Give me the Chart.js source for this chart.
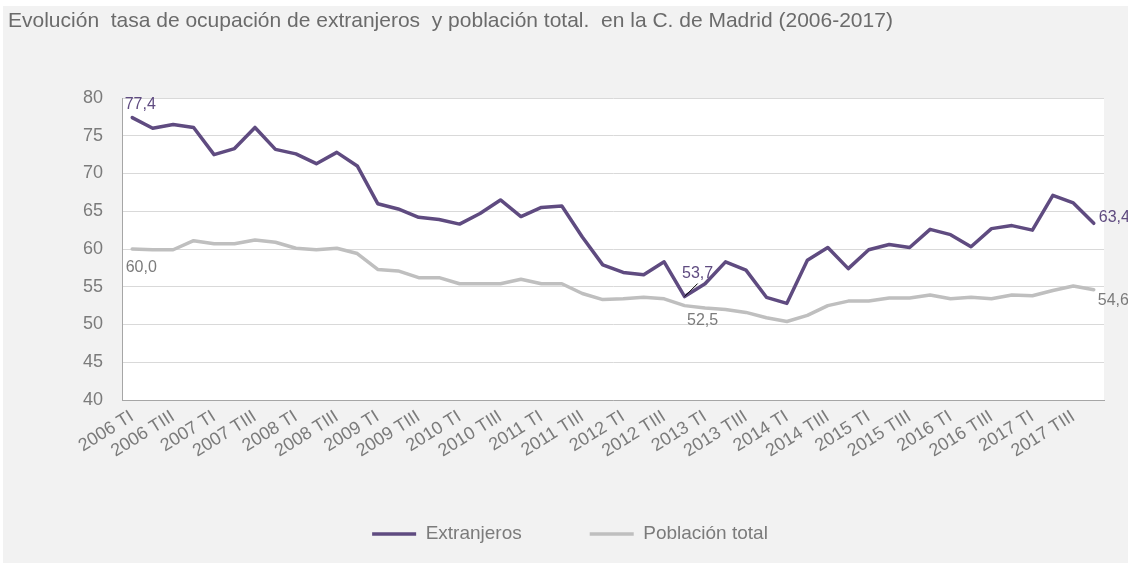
<!DOCTYPE html>
<html><head><meta charset="utf-8">
<script src="https://cdn.jsdelivr.net/npm/chart.js@4/dist/chart.umd.min.js"></script>
<style>html,body{margin:0;padding:0;background:#fff;}#wrap{width:1128px;height:563px;}</style>
</head><body><div id="wrap"><canvas id="c" width="1128" height="563"></canvas></div>
<script>
const years = ['2006','2007','2008','2009','2010','2011','2012','2013','2014','2015','2016','2017'];
const quarters = ['TI','TII','TIII','TIV'];
const categories = [];
years.forEach(y => quarters.forEach(q => categories.push(y + ' ' + q)));

const extranjeros = [77.4,76.0,76.5,76.1,72.5,73.3,76.1,73.2,72.6,71.3,72.8,71.0,
  66.0,65.3,64.2,63.9,63.3,64.7,66.5,64.3,65.5,65.7,61.6,57.9,
  56.9,56.6,58.3,53.7,55.4,58.3,57.2,53.6,52.8,58.5,60.2,57.4,
  59.9,60.6,60.2,62.6,61.9,60.3,62.7,63.1,62.5,67.1,66.1,63.4];
const poblacionTotal = [60.0,59.9,59.9,61.1,60.7,60.7,61.2,60.9,60.1,59.9,60.1,59.4,
  57.3,57.1,56.2,56.2,55.4,55.4,55.4,56.0,55.4,55.4,54.1,53.3,
  53.4,53.6,53.4,52.5,52.2,52.0,51.6,50.9,50.4,51.2,52.5,53.1,
  53.1,53.5,53.5,53.9,53.4,53.6,53.4,53.9,53.8,54.5,55.1,54.6];
const yTicks = [40,45,50,55,60,65,70,75,80];

const PURPLE = '#5f4b80';
const GREY = '#bfbfbf';
const TXT = '#7b7b7b';
const FONT = '"Liberation Sans", Arial, sans-serif';

const bgPlugin = {
  id: 'bg',
  afterLayout(chart) {
    if (chart.legend) { chart.legend.left += 14; chart.legend.right += 14; }
  },
  beforeDraw(chart) {
    const {ctx, chartArea: a} = chart;
    ctx.save();
    ctx.fillStyle = '#ffffff';
    ctx.fillRect(0, 0, chart.width, chart.height);
    ctx.fillStyle = '#f2f2f2';
    ctx.fillRect(3, 6, chart.width - 3, chart.height - 6);
    ctx.fillStyle = '#ffffff';
    ctx.fillRect(a.left, a.top, a.right - a.left, a.bottom - a.top);
    ctx.restore();
  }
};

const fmt = v => v.toFixed(1).replace('.', ',');

const labelPlugin = {
  id: 'labels',
  afterDatasetsDraw(chart) {
    const ctx = chart.ctx;
    const m0 = chart.getDatasetMeta(0).data;
    const m1 = chart.getDatasetMeta(1).data;
    const last = categories.length - 1;
    const mid = 27;
    ctx.save();
    ctx.font = '16px ' + FONT;
    ctx.textBaseline = 'middle';
    ctx.textAlign = 'center';
    ctx.fillStyle = PURPLE;
    ctx.fillText(fmt(extranjeros[0]), m0[0].x + 8, m0[0].y - 13);
    ctx.fillStyle = TXT;
    ctx.fillText(fmt(poblacionTotal[0]), m1[0].x + 9, m1[0].y + 19);
    ctx.strokeStyle = '#000';
    ctx.lineWidth = 1;
    ctx.beginPath();
    ctx.moveTo(m0[mid].x, m0[mid].y);
    ctx.lineTo(m0[mid].x + 13, m0[mid].y - 13);
    ctx.stroke();
    ctx.fillStyle = PURPLE;
    ctx.fillText(fmt(extranjeros[mid]), m0[mid].x + 13, m0[mid].y - 23);
    ctx.fillStyle = TXT;
    ctx.fillText(fmt(poblacionTotal[mid]), m1[mid].x + 18, m1[mid].y + 15);
    ctx.textAlign = 'left';
    ctx.fillStyle = PURPLE;
    ctx.fillText(fmt(extranjeros[last]), m0[last].x + 5, m0[last].y - 6);
    ctx.fillStyle = TXT;
    ctx.fillText(fmt(poblacionTotal[last]), m1[last].x + 4, m1[last].y + 11);
    ctx.restore();
  }
};

new Chart(document.getElementById('c'), {
  type: 'line',
  data: {
    labels: categories,
    datasets: [
      {label: 'Extranjeros', data: extranjeros, borderColor: PURPLE, backgroundColor: PURPLE,
       borderWidth: 3.5, pointRadius: 0, tension: 0, borderJoinStyle: 'round', borderCapStyle: 'round'},
      {label: 'Población total', data: poblacionTotal, borderColor: GREY, backgroundColor: GREY,
       borderWidth: 3.5, pointRadius: 0, tension: 0, borderJoinStyle: 'round', borderCapStyle: 'round'}
    ]
  },
  options: {
    responsive: false,
    animation: false,
    events: [],
    layout: {padding: {left: 8, right: 24, top: 0, bottom: 9.5}},
    plugins: {
      title: {
        display: true, align: 'start',
        text: 'Evolución  tasa de ocupación de extranjeros  y población total.  en la C. de Madrid (2006-2017)',
        color: '#6b6b6b', font: {family: FONT, size: 21, weight: 'normal'},
        padding: {top: 9, bottom: 63.8}
      },
      legend: {
        position: 'bottom',
        labels: {
          usePointStyle: true, pointStyle: 'line', pointStyleWidth: 44, boxHeight: 3,
          color: TXT, font: {family: FONT, size: 19}, padding: 68
        }
      },
      tooltip: {enabled: false}
    },
    scales: {
      x: {
        offset: true,
        grid: {display: false, drawTicks: false},
        border: {display: true, color: '#a6a6a6', width: 1},
        ticks: {
          autoSkip: false, minRotation: 32, maxRotation: 32, padding: 6,
          color: TXT, font: {family: FONT, size: 18},
          callback: function(v, i) { return i % 2 === 0 ? categories[i] : ''; }
        },
        afterFit(scale) { scale.height = 56.5; }
      },
      y: {
        min: 40, max: 80,
        afterBuildTicks(scale) { scale.ticks = yTicks.map(v => ({value: v})); },
        grid: {color: '#d9d9d9', lineWidth: 1, drawTicks: false},
        border: {display: true, color: '#a6a6a6', width: 1},
        ticks: {color: TXT, font: {family: FONT, size: 18}, padding: 19},
        afterFit(scale) { scale.width = 114; }
      }
    }
  },
  plugins: [bgPlugin, labelPlugin]
});
</script>
</body></html>
